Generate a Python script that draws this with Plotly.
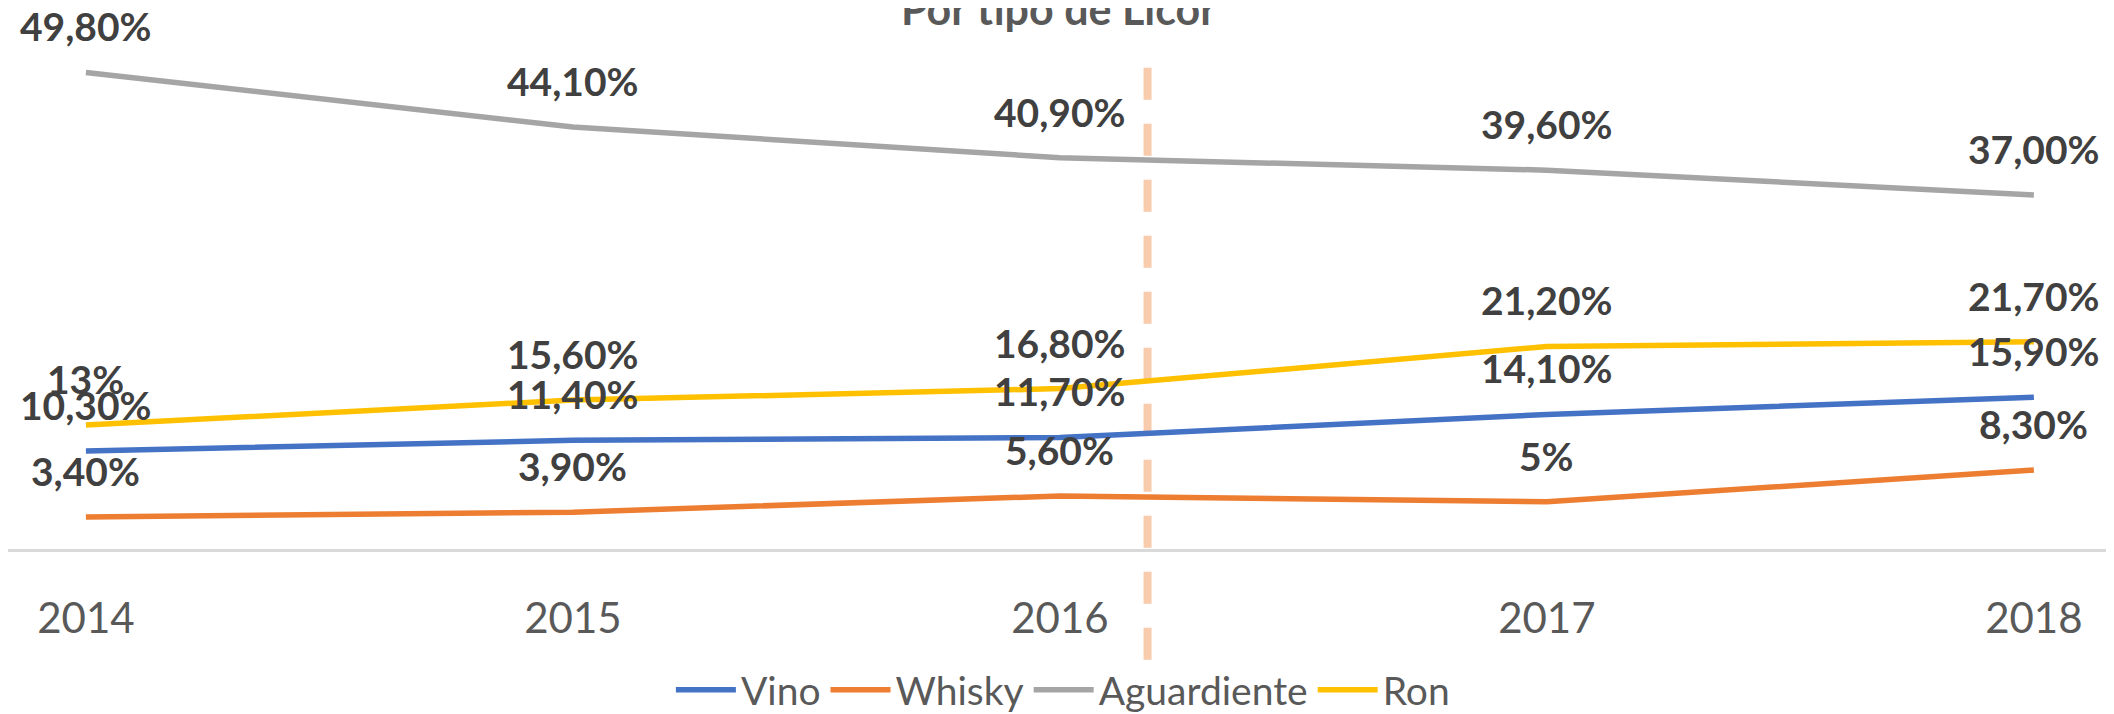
import plotly.graph_objects as go

# ---- data ----
years = [2014, 2015, 2016, 2017, 2018]
year_labels = ["2014", "2015", "2016", "2017", "2018"]

vino = [10.3, 11.4, 11.7, 14.1, 15.9]
whisky = [3.4, 3.9, 5.6, 5.0, 8.3]
aguardiente = [49.8, 44.1, 40.9, 39.6, 37.0]
ron = [13.0, 15.6, 16.8, 21.2, 21.7]

vino_lbl = ["10,30%", "11,40%", "11,70%", "14,10%", "15,90%"]
whisky_lbl = ["3,40%", "3,90%", "5,60%", "5%", "8,30%"]
aguardiente_lbl = ["49,80%", "44,10%", "40,90%", "39,60%", "37,00%"]
ron_lbl = ["13%", "15,60%", "16,80%", "21,20%", "21,70%"]

series_names = ["Vino", "Whisky", "Aguardiente", "Ron"]
marker_year = 2016.18  # dashed reference line position

# ---- style ----
colors = ["#4472C4", "#ED7D31", "#A5A5A5", "#FFC000"]
W, H = 2114, 714
FONT = "Lato"

series = [vino, whisky, aguardiente, ron]
labels = [vino_lbl, whisky_lbl, aguardiente_lbl, ron_lbl]

fig = go.Figure()
for name, vals, col in zip(series_names, series, colors):
    fig.add_trace(go.Scatter(
        x=years, y=vals, name=name, mode="lines",
        line=dict(color=col, width=5.5),
        hoverinfo="skip",
    ))

annotations = []
for vals, lbls in zip(series, labels):
    for x, v, t in zip(years, vals, lbls):
        annotations.append(dict(
            x=x, y=v, xref="x", yref="y", text=t, showarrow=False,
            xanchor="center", yanchor="bottom", yshift=21,
            font=dict(family=FONT, size=39, color="#404040", weight="bold"),
        ))

fig.update_layout(
    width=W, height=H,
    margin=dict(l=0, r=0, t=0, b=0),
    paper_bgcolor="white", plot_bgcolor="white",
    title=dict(
        text="Por tipo de Licor", x=0.497, xanchor="center",
        y=1 - 17 / H, yanchor="bottom", yref="container",
        font=dict(family=FONT, size=43, color="#595959", weight="bold"),
    ),
    xaxis=dict(
        range=[2013.84, 2018.181],
        tickvals=years, ticktext=year_labels,
        showgrid=False, zeroline=False,
        showline=True, linecolor="#D9D9D9", linewidth=2.5,
        anchor="free", position=(H - 554) / H,
        ticks="", ticklabelstandoff=31,
        tickfont=dict(family=FONT, size=42, color="#595959"),
    ),
    yaxis=dict(
        range=[-16.33, 56.53], visible=False,
        showgrid=False, zeroline=False,
    ),
    legend=dict(
        orientation="h", x=0.499, xanchor="center",
        y=(H - 698) / H, yanchor="middle",
        font=dict(family=FONT, size=39, color="#595959"),
        bgcolor="rgba(0,0,0,0)", itemwidth=60,
    ),
    shapes=[dict(
        type="line", xref="x", yref="paper",
        x0=marker_year, x1=marker_year,
        y0=(H - 61) / H, y1=(H - 679) / H,
        line=dict(color="#F8CBAD", width=8, dash="32px,24px"),
        layer="below",
    )],
    annotations=annotations,
)

fig.write_html("out.html")
